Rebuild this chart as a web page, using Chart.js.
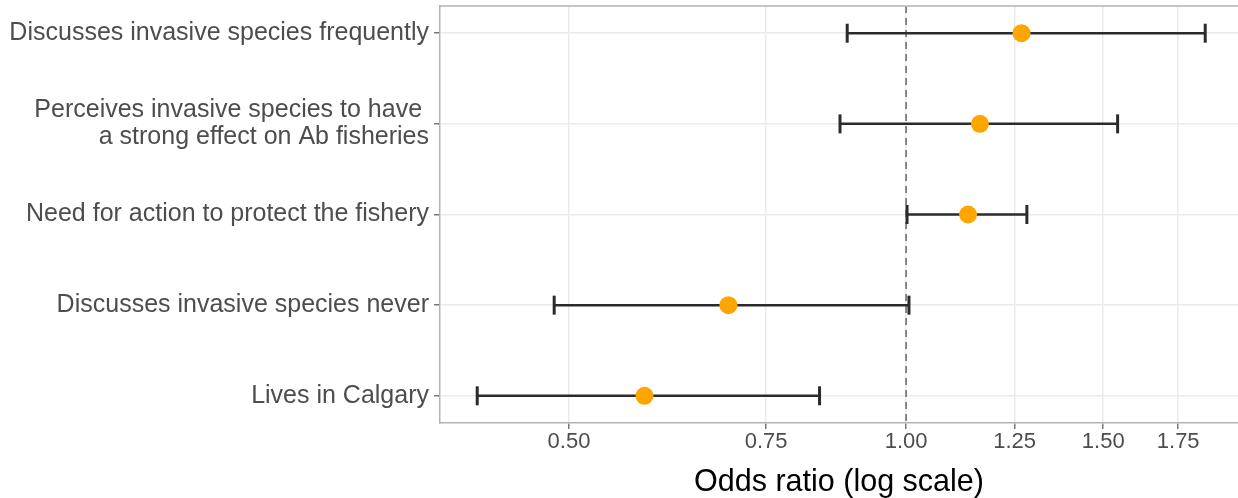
<!DOCTYPE html>
<html>
<head>
<meta charset="utf-8">
<script src="https://cdn.jsdelivr.net/npm/chart.js@4/dist/chart.umd.min.js"></script>
<style>
  body { margin: 0; background: #fff; }
  #wrap { width: 1238px; height: 498px; }
</style>
</head>
<body>
<div id="wrap"><canvas id="forest-chart"></canvas></div>
<script>
// rows from top to bottom
const labels = [
  'Discusses invasive species frequently',
  ['Perceives invasive species to have ', 'a strong effect on Ab fisheries'],
  'Need for action to protect the fishery',
  'Discusses invasive species never',
  'Lives in Calgary'
];
const oddsRatio = [1.268, 1.164, 1.136, 0.694, 0.584];
const lowerCI = [0.886, 0.873, 1.002, 0.485, 0.414];
const upperCI = [1.850, 1.545, 1.282, 1.006, 0.837];
const xTicks = [0.50, 0.75, 1.00, 1.25, 1.50, 1.75];

const fontFamily = '"Liberation Sans", Arial, Helvetica, sans-serif';

// top edge of the panel box (the right edge falls outside the picture)
const panelBorder = {
  id: 'panelBorder',
  afterDraw(chart) {
    const { ctx, chartArea } = chart;
    ctx.save();
    ctx.strokeStyle = '#b3b3b3';
    ctx.lineWidth = 1.5;
    ctx.beginPath();
    ctx.moveTo(chartArea.left, chartArea.top);
    ctx.lineTo(chartArea.right, chartArea.top);
    ctx.stroke();
    ctx.restore();
  }
};

const ciSets = labels.map((lab, i) => ({
  label: 'ci' + i,
  data: [{ x: lowerCI[i], y: i + 1 }, { x: upperCI[i], y: i + 1 }],
  showLine: true,
  borderColor: '#2b2b2b',
  borderWidth: 2.5,
  pointStyle: 'line',
  rotation: 90,
  pointRadius: 9.5,
  pointBorderWidth: 3,
  pointBorderColor: '#2b2b2b',
  pointHoverRadius: 9.5
}));

new Chart(document.querySelector('#forest-chart').getContext('2d'), {
  type: 'scatter',
  data: {
    datasets: [
      {
        label: 'Odds ratio',
        data: oddsRatio.map((v, i) => ({ x: v, y: i + 1 })),
        backgroundColor: '#FFA500',
        borderWidth: 0,
        pointRadius: 9,
        pointHoverRadius: 9
      },
      ...ciSets,
      {
        label: 'ref',
        data: [{ x: 1, y: 0.7 }, { x: 1, y: 5.3 }],
        showLine: true,
        borderColor: '#444',
        borderWidth: 1.2,
        borderDash: [7, 5],
        pointRadius: 0
      }
    ]
  },
  options: {
    responsive: true,
    maintainAspectRatio: false,
    animation: false,
    layout: { autoPadding: false, padding: { top: 6, left: 0, right: 0, bottom: 0 } },
    plugins: { legend: { display: false }, tooltip: { enabled: false } },
    scales: {
      x: {
        type: 'logarithmic',
        min: 0.3835,
        max: 1.979,
        afterBuildTicks: scale => { scale.ticks = xTicks.map(v => ({ value: v })); },
        afterFit: scale => {
          scale.height = 75;
          scale.paddingLeft = 0;
          scale.paddingRight = 0;
        },
        grid: { color: '#ebebeb', lineWidth: 1.5, tickColor: '#777', tickLength: 6 },
        border: { color: '#b3b3b3', width: 1.5 },
        ticks: {
          autoSkip: false,
          maxRotation: 0,
          padding: 0,
          color: '#4d4d4d',
          font: { family: fontFamily, size: 22 },
          callback: v => Number(v).toFixed(2)
        },
        title: {
          display: true,
          text: 'Odds ratio (log scale)',
          color: '#000',
          font: { family: fontFamily, size: 30.5, lineHeight: 1.0 },
          padding: { top: 0, bottom: 0 }
        }
      },
      y: {
        type: 'linear',
        reverse: true,
        min: 0.7,
        max: 5.3,
        afterBuildTicks: scale => { scale.ticks = labels.map((l, i) => ({ value: i + 1 })); },
        afterFit: scale => {
          scale.width = 440;
          scale.paddingTop = 0;
          scale.paddingBottom = 0;
        },
        grid: { color: '#ebebeb', lineWidth: 1.5, tickColor: '#777', tickLength: 6 },
        border: { color: '#b3b3b3', width: 1.5 },
        ticks: {
          autoSkip: false,
          padding: 5,
          color: '#4d4d4d',
          font: { family: fontFamily, size: 25, lineHeight: 1.1 },
          callback: v => labels[Math.round(v) - 1]
        }
      }
    }
  },
  plugins: [panelBorder]
});
</script>
</body>
</html>
